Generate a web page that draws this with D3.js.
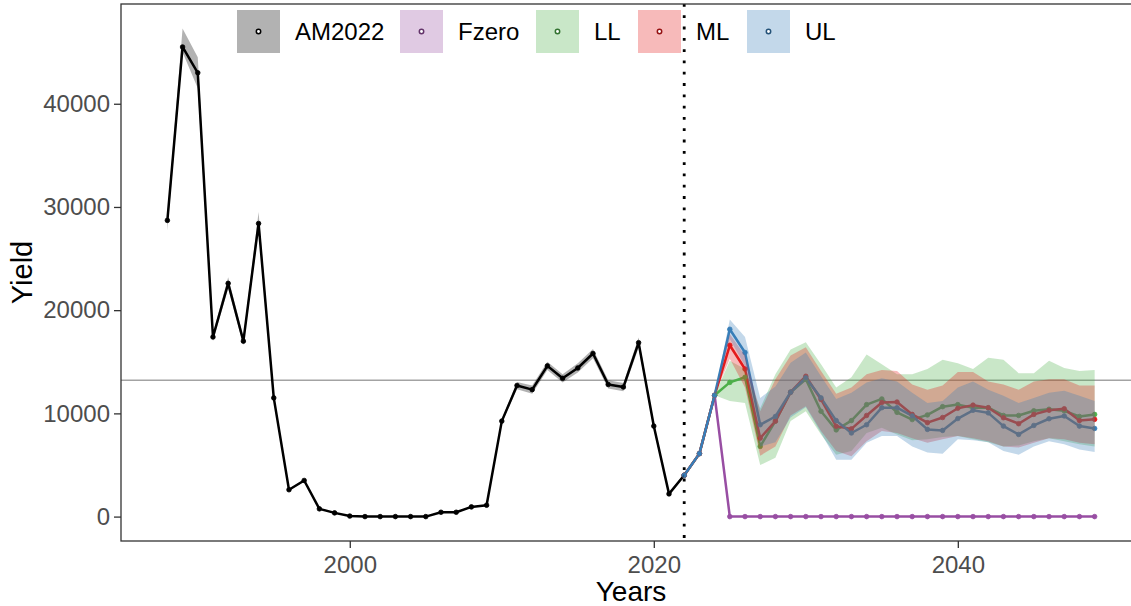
<!DOCTYPE html>
<html>
<head>
<meta charset="utf-8">
<script src="https://cdn.jsdelivr.net/npm/d3@7"></script>
<style>
  body { margin: 0; background: #fff; }
  text { font-family: "Liberation Sans", Arial, Helvetica, sans-serif; }
</style>
</head>
<body>
<div id="chart"></div>
<script>
// assessment years (AM2022)
var histYears = [1988, 1989, 1990, 1991, 1992, 1993, 1994, 1995, 1996, 1997, 1998, 1999,
  2000, 2001, 2002, 2003, 2004, 2005, 2006, 2007, 2008, 2009, 2010, 2011, 2012, 2013,
  2014, 2015, 2016, 2017, 2018, 2019, 2020, 2021, 2022];
var histYield = [28700, 45500, 43000, 17400, 22600, 17000, 28400, 11500, 2600, 3500, 750, 360,
  50, 0, 0, 0, 0, 0, 420, 420, 940, 1100, 9250, 12700, 12300, 14600,
  13400, 14400, 15800, 12800, 12550, 16850, 8770, 2200, 4000];
var histLow = [27700, 45000, 41500, 17000, 22100, 16600, 27800, 11300, 2500, 3400, 680, 320,
  30, 0, 0, 0, 0, 0, 380, 380, 880, 1030, 9050, 12350, 11900, 14200,
  13000, 13950, 15350, 12400, 12150, 16350, 8470, 2100, 3850];
var histHigh = [29200, 47300, 44500, 17800, 23200, 17400, 29500, 11800, 2700, 3600, 820, 400,
  70, 0, 0, 0, 0, 0, 460, 460, 1000, 1170, 9450, 13050, 12700, 15000,
  13800, 14850, 16250, 13200, 12950, 17350, 9070, 2300, 4150];

// projection years
var projYears = [2022, 2023, 2024, 2025, 2026, 2027, 2028, 2029, 2030, 2031, 2032, 2033, 2034,
  2035, 2036, 2037, 2038, 2039, 2040, 2041, 2042, 2043, 2044, 2045, 2046, 2047, 2048, 2049];

var fzeroYield = [4000, 6100, 11750, 0, 0, 0, 0, 0, 0, 0, 0, 0, 0,
  0, 0, 0, 0, 0, 0, 0, 0, 0, 0, 0, 0, 0, 0, 0];

var llYield = [4000, 6100, 11750, 13000, 13500, 6800, 9250, 12050, 13300, 10200, 8400, 9300, 10850,
  11400, 10100, 9400, 9850, 10650, 10850, 10550, 10550, 9800, 9800, 10250, 10400, 10250, 9700, 9900];
var llLow = [4000, 6100, 11750, 11200, 11000, 5000, 5700, 9250, 10200, 7950, 6000, 6350, 8100,
  8600, 7950, 7400, 7500, 7700, 7800, 7500, 7200, 6800, 6900, 7300, 7600, 7300, 7000, 6800];
var llHigh = [4000, 6100, 11750, 15100, 14300, 10500, 13800, 16200, 16900, 14750, 12500, 13500, 15700,
  14750, 13800, 13800, 14300, 15200, 14850, 14300, 15400, 15200, 13900, 13900, 15100, 14400, 14100, 14200];

var mlYield = [4000, 6100, 11750, 16600, 14300, 7600, 9250, 12050, 13600, 11350, 8750, 8500, 9800,
  11050, 11100, 9900, 9100, 9600, 10500, 10800, 10550, 9580, 9000, 9900, 10300, 10450, 9300, 9420];
var mlLow = [4000, 6100, 11750, 15300, 12500, 5900, 6800, 9800, 10700, 8300, 6350, 5850, 7300,
  8300, 8100, 7600, 7150, 7500, 7800, 7600, 7300, 6800, 6700, 7150, 7600, 7500, 7150, 7000];
var mlHigh = [4000, 6100, 11750, 17700, 15600, 10200, 13300, 15600, 16400, 14100, 11900, 12500, 13800,
  14200, 14100, 12800, 12300, 12700, 14000, 14000, 13100, 12800, 12300, 13100, 13300, 13300, 12700, 12700];

var ulYield = [4000, 6100, 11750, 18150, 15900, 8900, 9700, 12050, 13450, 11500, 9300, 8100, 8900,
  10550, 10550, 9750, 8450, 8350, 9500, 10300, 10050, 8770, 7960, 8830, 9480, 9750, 8770, 8540];
var ulLow = [4000, 6100, 11750, 17200, 14600, 6800, 7200, 9600, 10600, 8100, 5500, 5500, 7150,
  7800, 7800, 6800, 6200, 6100, 7500, 7400, 7200, 6350, 6000, 6800, 7300, 7000, 6500, 6250];
var ulHigh = [4000, 6100, 11750, 19100, 17400, 11500, 12600, 14900, 15900, 13600, 11400, 12000, 13000,
  13400, 13100, 12000, 11000, 11200, 12500, 13100, 12300, 11700, 11000, 11500, 12000, 12200, 11700, 11200];

var seriesNames = ["AM2022", "Fzero", "LL", "ML", "UL"];
var seriesColors = ["#000000", "#984EA3", "#4DAF4A", "#E41A1C", "#377EB8"];
var refYield = 13200;
var splitYear = 2022;
var yTicks = [0, 10000, 20000, 30000, 40000];
var xTicks = [2000, 2020, 2040];

function zipSeries(years, mid, low, high) {
  return years.map(function (y, i) {
    return { year: y, mid: mid[i], low: low[i], high: high[i] };
  });
}

var series = [
  zipSeries(histYears, histYield, histLow, histHigh),
  zipSeries(projYears, fzeroYield, fzeroYield, fzeroYield),
  zipSeries(projYears, llYield, llLow, llHigh),
  zipSeries(projYears, mlYield, mlLow, mlHigh),
  zipSeries(projYears, ulYield, ulLow, ulHigh)
].map(function (values, i) {
  return { name: seriesNames[i], color: seriesColors[i], values: values };
});

var width = 1131, height = 606;
var panel = { left: 121, right: 1141, top: 4, bottom: 541 };

var allPoints = d3.merge(series.map(function (s) { return s.values; }));

function expand(ext) {
  var pad = (ext[1] - ext[0]) * 0.05;
  return [ext[0] - pad, ext[1] + pad];
}

var x = d3.scaleLinear()
  .domain(expand(d3.extent(allPoints, function (d) { return d.year; })))
  .range([panel.left, panel.right]);

var y = d3.scaleLinear()
  .domain(expand([d3.min(allPoints, function (d) { return d.low; }),
    d3.max(allPoints, function (d) { return d.high; })]))
  .range([panel.bottom, panel.top]);

var svg = d3.select("#chart").append("svg")
  .attr("width", width)
  .attr("height", height);

svg.append("defs").append("clipPath")
  .attr("id", "panel-clip")
  .append("rect")
  .attr("x", panel.left)
  .attr("y", panel.top)
  .attr("width", panel.right - panel.left)
  .attr("height", panel.bottom - panel.top);

var plot = svg.append("g").attr("clip-path", "url(#panel-clip)");

// reference yield line
plot.append("line")
  .attr("x1", panel.left)
  .attr("x2", panel.right)
  .attr("y1", y(refYield))
  .attr("y2", y(refYield))
  .attr("stroke", "#a3a3a3")
  .attr("stroke-width", 1.5);

// end of assessment
plot.append("line")
  .attr("x1", x(splitYear))
  .attr("x2", x(splitYear))
  .attr("y1", panel.top)
  .attr("y2", panel.bottom)
  .attr("stroke", "#000")
  .attr("stroke-width", 2.8)
  .attr("stroke-dasharray", "2.8 8.5");

var line = d3.line()
  .x(function (d) { return x(d.year); })
  .y(function (d) { return y(d.mid); });

var band = d3.area()
  .x(function (d) { return x(d.year); })
  .y0(function (d) { return y(d.low); })
  .y1(function (d) { return y(d.high); });

plot.selectAll(".series-line")
  .data(series)
  .enter()
  .append("path")
  .attr("class", "series-line")
  .attr("d", function (d) { return line(d.values); })
  .attr("fill", "none")
  .attr("stroke", function (d) { return d.color; })
  .attr("stroke-width", 2.5)
  .attr("stroke-linejoin", "round");

series.forEach(function (s) {
  plot.append("g")
    .selectAll("circle")
    .data(s.values)
    .enter()
    .append("circle")
    .attr("cx", function (d) { return x(d.year); })
    .attr("cy", function (d) { return y(d.mid); })
    .attr("r", 2.3)
    .attr("fill", s.color)
    .attr("stroke", s.color)
    .attr("stroke-width", 0.8);
});

// ribbons sit on top of the lines
plot.selectAll(".series-band")
  .data(series)
  .enter()
  .append("path")
  .attr("class", "series-band")
  .attr("d", function (d) { return band(d.values); })
  .attr("fill", function (d) { return d.color; })
  .attr("fill-opacity", 0.3);

// panel border
svg.append("rect")
  .attr("x", panel.left)
  .attr("y", panel.top)
  .attr("width", panel.right - panel.left)
  .attr("height", panel.bottom - panel.top)
  .attr("fill", "none")
  .attr("stroke", "#333")
  .attr("stroke-width", 1.3);

var yAxis = svg.append("g")
  .attr("transform", "translate(" + panel.left + ",0)")
  .call(d3.axisLeft(y).tickValues(yTicks).tickFormat(d3.format("d")).tickSize(7).tickPadding(4));

var xAxis = svg.append("g")
  .attr("transform", "translate(0," + panel.bottom + ")")
  .call(d3.axisBottom(x).tickValues(xTicks).tickFormat(d3.format("d")).tickSize(7).tickPadding(8));

[yAxis, xAxis].forEach(function (ax) {
  ax.select(".domain").remove();
  ax.selectAll(".tick line").attr("stroke", "#333").attr("stroke-width", 1.3);
  ax.selectAll(".tick text")
    .attr("fill", "#4d4d4d")
    .attr("font-size", 24)
    .attr("font-family", "'Liberation Sans', Arial, sans-serif");
});

svg.append("text")
  .attr("x", (panel.left + panel.right) / 2)
  .attr("y", 601)
  .attr("text-anchor", "middle")
  .attr("font-size", 28)
  .attr("fill", "#000")
  .text("Years");

svg.append("text")
  .attr("transform", "translate(32," + (panel.top + panel.bottom) / 2 + ") rotate(-90)")
  .attr("text-anchor", "middle")
  .attr("font-size", 29)
  .attr("fill", "#000")
  .text("Yield");

// legend (key left edges taken from the reference layout)
var keySize = 43;
var keyLeft = [237, 400, 536, 638, 747];
var legendTop = 10;
var legend = svg.append("g");

series.forEach(function (s, i) {
  var g = legend.append("g").attr("transform", "translate(" + keyLeft[i] + "," + legendTop + ")");
  g.append("rect")
    .attr("width", keySize)
    .attr("height", keySize)
    .attr("fill", s.color)
    .attr("fill-opacity", 0.3);
  g.append("circle")
    .attr("cx", keySize / 2)
    .attr("cy", keySize / 2)
    .attr("r", 2.2)
    .attr("fill", "#fff")
    .attr("stroke", d3.color(s.color).darker(1.2))
    .attr("stroke-width", 1.5);
  g.append("text")
    .attr("x", keySize + 15)
    .attr("y", keySize / 2 + 8.6)
    .attr("font-size", 24)
    .attr("fill", "#000")
    .text(s.name);
});
</script>
</body>
</html>
